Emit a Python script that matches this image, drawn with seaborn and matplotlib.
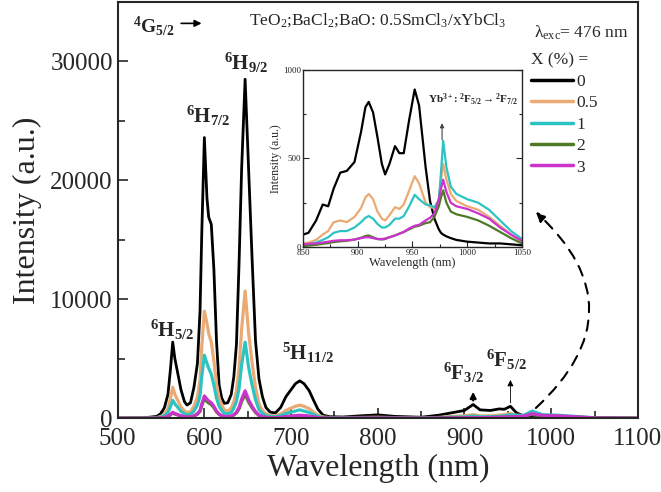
import matplotlib
matplotlib.use("Agg")
import matplotlib.pyplot as plt
import seaborn as sns
from matplotlib.ticker import MultipleLocator

# main spectrum, 4G5/2 emission of Sm3+
wl = [500, 530, 545, 550, 554, 558, 561, 563.5, 566, 569, 573, 577, 580, 584, 588, 592, 595, 597,
      600, 603, 605, 608, 611, 614, 617, 620, 623, 627, 631, 634, 637, 640, 643, 647, 651, 655,
      659, 663, 667, 671, 676, 682, 688, 694, 700, 705, 710, 715, 721, 726, 731, 737, 745, 760,
      780, 800, 820, 850, 870, 885, 900, 910, 918, 930, 940, 946, 953, 960, 968, 978, 990, 1010,
      1050, 1100]
x0 = [0, 30, 150, 400, 900, 2000, 4200, 6400, 5000, 3900, 2400, 1400, 1100, 1300, 2600, 4600, 9000,
      15500, 23600, 18500, 16900, 16300, 12500, 6500, 2800, 1700, 1250, 1300, 2000, 3500, 6200,
      13000, 21000, 28500, 21000, 13500, 6500, 3300, 1800, 900, 500, 450, 900, 1800, 2400, 2900,
      3140, 2900, 2300, 1500, 750, 250, 120, 100, 200, 280, 150, 80, 250, 450, 650, 1150, 700, 650,
      780, 750, 1000, 450, 200, 60, 30, 20, 10, 0]
x05 = [0, 10, 50, 150, 350, 800, 1700, 2600, 2000, 1550, 950, 600, 480, 550, 1000, 1800, 3200,
       6000, 9000, 8000, 7100, 6400, 4800, 2900, 1700, 1100, 700, 600, 850, 1400, 2300, 4200, 7500,
       10700, 7200, 4700, 2600, 1200, 650, 350, 230, 200, 350, 650, 850, 1000, 1100, 1000, 800, 500,
       260, 100, 50, 50, 60, 80, 50, 30, 60, 150, 200, 300, 200, 200, 250, 300, 400, 250, 220, 480,
       230, 170, 30, 0]
x1 = [0, 5, 30, 90, 210, 480, 1000, 1500, 1200, 950, 580, 360, 290, 330, 600, 1100, 1900, 3500,
      5300, 4600, 4200, 3700, 2800, 1700, 1000, 650, 420, 360, 500, 850, 1400, 2500, 4500, 6400,
      4300, 2800, 1550, 720, 390, 210, 140, 120, 210, 390, 510, 600, 700, 600, 480, 300, 160, 60,
      30, 30, 40, 50, 30, 20, 40, 90, 110, 180, 120, 130, 160, 200, 290, 240, 230, 600, 300, 240,
      40, 0]
x2 = [0, 0, 8, 25, 60, 140, 290, 440, 350, 280, 175, 105, 90, 95, 175, 330, 570, 1050, 1650, 1400,
      1280, 1150, 880, 530, 310, 200, 130, 115, 160, 265, 440, 790, 1400, 2020, 1360, 880, 480, 230,
      120, 65, 45, 40, 65, 120, 160, 195, 220, 195, 150, 95, 50, 18, 8, 8, 12, 18, 12, 5, 18, 28,
      40, 65, 45, 55, 75, 90, 115, 130, 150, 320, 190, 150, 20, 0]
x3 = [0, 0, 10, 30, 70, 160, 330, 500, 400, 320, 200, 120, 100, 110, 200, 380, 650, 1200, 1870,
      1600, 1450, 1300, 1000, 600, 350, 230, 150, 130, 180, 300, 500, 900, 1600, 2300, 1550, 1000,
      550, 260, 140, 75, 50, 45, 75, 140, 180, 220, 250, 220, 170, 110, 55, 20, 10, 10, 15, 20, 15,
      5, 20, 30, 35, 50, 40, 60, 80, 100, 110, 130, 160, 380, 230, 190, 25, 0]

# inset, 850-1050 nm
wl_in = [850, 855, 862, 868, 873, 878, 884, 890, 897, 903, 907, 910, 914, 918, 922, 925, 929, 934,
         938, 942, 947, 952, 956, 962, 966, 970, 974, 976, 978, 981, 985, 990, 1000, 1010, 1020,
         1030, 1040, 1050]
in0 = [70, 80, 150, 240, 230, 330, 420, 430, 480, 650, 790, 820, 760, 620, 470, 410, 470, 570, 530,
       530, 720, 890, 800, 450, 260, 160, 100, 80, 70, 60, 50, 40, 30, 25, 20, 20, 15, 10]
in05 = [20, 25, 40, 70, 90, 140, 150, 140, 170, 220, 280, 300, 270, 200, 160, 150, 180, 225, 215,
        240, 320, 400, 360, 250, 225, 220, 270, 380, 470, 380, 300, 260, 230, 210, 170, 120, 70, 30]
in1 = [10, 15, 25, 40, 55, 80, 90, 90, 110, 140, 165, 175, 160, 130, 110, 110, 125, 160, 160, 175,
       230, 295, 270, 240, 235, 225, 260, 420, 600, 450, 340, 300, 270, 250, 210, 150, 90, 45]
in2 = [5, 8, 12, 18, 22, 28, 32, 35, 42, 52, 62, 65, 55, 45, 42, 45, 55, 65, 75, 85, 100, 115, 120,
       135, 140, 170, 230, 280, 320, 250, 200, 185, 170, 150, 120, 85, 50, 20]
in3 = [15, 18, 20, 25, 30, 35, 38, 38, 42, 50, 55, 55, 50, 45, 45, 48, 55, 65, 75, 85, 105, 120,
       125, 150, 165, 190, 270, 330, 380, 310, 250, 230, 215, 190, 160, 110, 70, 35]

labels = ["0", "0.5", "1", "2", "3"]
colors = ["#000000", "#EBAA73", "#2EC3C3", "#4E7A28", "#CC33CC"]

sns.set_style("ticks")
plt.rcParams["font.family"] = ["Liberation Serif", "DejaVu Serif"]
plt.rcParams["mathtext.fontset"] = "custom"
plt.rcParams["mathtext.rm"] = "Liberation Serif"
plt.rcParams["mathtext.it"] = "Liberation Serif:italic"
plt.rcParams["mathtext.bf"] = "Liberation Serif:bold"

fig = plt.figure(figsize=(6.61, 4.92), dpi=100)
ax = fig.add_axes([0.178, 0.150, 0.787, 0.846])

for y, lab, c in zip([x0, x05, x1, x2, x3], labels, colors):
    sns.lineplot(x=wl, y=y, color=c, lw=2.0 if c == "#000000" else 2.3, label=lab, ax=ax)

ax.set_xlim(500, 1100)
ax.set_ylim(0, 35000)
ax.xaxis.set_major_locator(MultipleLocator(100))
ax.xaxis.set_minor_locator(MultipleLocator(50))
ax.yaxis.set_major_locator(MultipleLocator(10000))
ax.yaxis.set_minor_locator(MultipleLocator(5000))
ax.tick_params(which="both", direction="in", labelsize=18, width=1.2)
ax.tick_params(which="major", length=7)
ax.tick_params(which="minor", length=5)
ax.tick_params(axis="x", pad=7)
for s in ax.spines.values():
    s.set_linewidth(1.5)
ax.set_xlabel("Wavelength (nm)", fontsize=23, labelpad=3)
ax.set_ylabel("Intensity (a.u.)", fontsize=23, labelpad=6)

leg = ax.legend(title="X (%) =", loc="upper left", bbox_to_anchor=(0.795, 0.878),
                frameon=False, fontsize=12.5, title_fontsize=12.5, handlelength=2.4,
                handletextpad=0.2, labelspacing=0.3, borderpad=0, borderaxespad=0,
                alignment="left")
for h in leg.get_lines():
    h.set_linewidth(2.5)

ax.text(800, 33500, r"TeO$_2$;BaCl$_2$;BaO: 0.5SmCl$_3$/xYbCl$_3$", fontsize=12.5,
        ha="center", va="center")
ax.text(980, 32400, r"λ$_{\mathrm{exc}}$= 476 nm", fontsize=12.5, ha="left", va="center")
ax.text(518, 33000, r"$\mathbf{^4G_{5/2}}$", fontsize=14, ha="left", va="center")
ax.annotate("", xy=(600, 33200), xytext=(570, 33200),
            arrowprops=dict(arrowstyle="-|>", color="black", lw=1.2, mutation_scale=10))

peaks = [(563.5, 7400, r"$\mathbf{^6H_{5/2}}$"), (604, 25460, r"$\mathbf{^6H_{7/2}}$"),
         (648, 29900, r"$\mathbf{^6H_{9/2}}$"), (719, 5460, r"$\mathbf{^5H_{11/2}}$"),
         (899, 3780, r"$\mathbf{^6F_{3/2}}$"), (948, 4870, r"$\mathbf{^6F_{5/2}}$")]
for px, py, t in peaks:
    ax.text(px, py, t, fontsize=15, ha="center", va="center")

ax.annotate("", xy=(910, 2450), xytext=(910, 1250),
            arrowprops=dict(arrowstyle="-|>", color="black", lw=1.5, mutation_scale=9))
ax.annotate("", xy=(953, 3450), xytext=(953, 1050),
            arrowprops=dict(arrowstyle="-|>", color="black", lw=0.6, mutation_scale=9))
ax.annotate("", xy=(980, 17500), xytext=(980, 700),
            arrowprops=dict(arrowstyle="-|>", color="black", lw=1.5, ls=(0, (5, 4)),
                            connectionstyle="arc3,rad=0.55", mutation_scale=14))

# inset
axi = fig.add_axes([0.4584, 0.4980, 0.3313, 0.3597])
for y, c in zip([in0, in05, in1, in2, in3], colors):
    sns.lineplot(x=wl_in, y=y, color=c, lw=1.6, ax=axi)
axi.set_xlim(850, 1050)
axi.set_ylim(0, 1000)
axi.xaxis.set_major_locator(MultipleLocator(50))
axi.yaxis.set_major_locator(MultipleLocator(500))
axi.yaxis.set_minor_locator(MultipleLocator(250))
axi.xaxis.set_minor_locator(MultipleLocator(25))
axi.tick_params(which="both", direction="in", labelsize=6.5, width=0.8, right=True)
axi.tick_params(which="major", length=4, pad=1.5)
axi.tick_params(which="minor", length=2.5)
for s in axi.spines.values():
    s.set_linewidth(1.0)
axi.set_xlabel("Wavelength (nm)", fontsize=9, labelpad=0)
axi.set_ylabel("Intensity (a.u.)", fontsize=8.5, labelpad=1)
axi.text(1005, 830, r"$\mathbf{Yb^{3+}}$: $\mathbf{^2F_{5/2} \rightarrow {^2F_{7/2}}}$",
         fontsize=8, ha="center", va="center", fontweight="bold")
axi.annotate("", xy=(977, 715), xytext=(977, 590),
             arrowprops=dict(arrowstyle="-|>", color="#444444", lw=0.8, mutation_scale=6))

fig.savefig("out.png", dpi=100)
